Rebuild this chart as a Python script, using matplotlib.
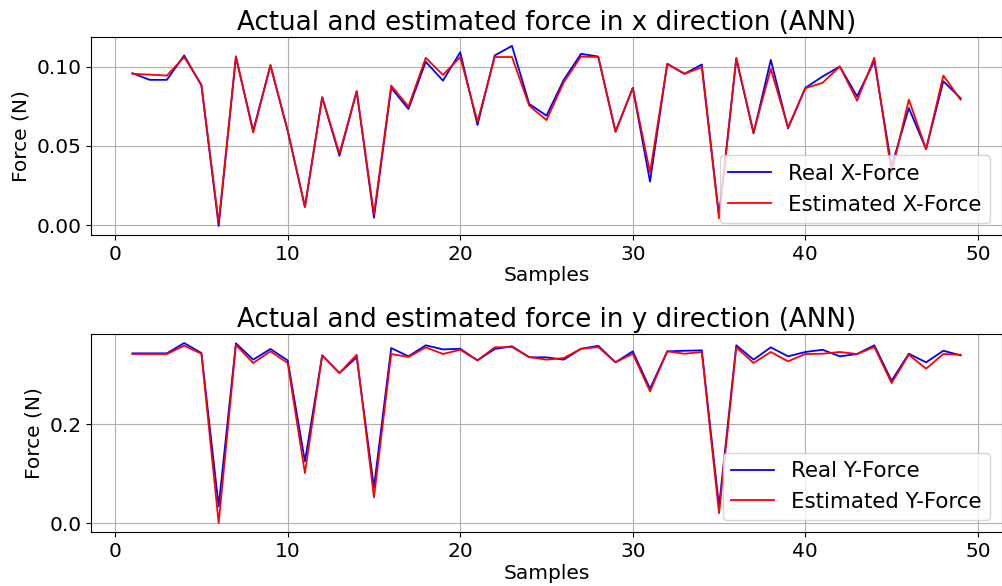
import matplotlib
matplotlib.use("Agg")
import matplotlib.pyplot as plt

samples = list(range(1, 50))

real_x = [0.0958, 0.0916, 0.0916, 0.1070, 0.0880, -0.0006, 0.1060, 0.0595, 0.1006, 0.0595,
          0.0114, 0.0806, 0.0437, 0.0844, 0.0046, 0.0865, 0.0732, 0.1030, 0.0911, 0.1090,
          0.0631, 0.1070, 0.1130, 0.0764, 0.0690, 0.0916, 0.1080, 0.1063, 0.0589, 0.0865,
          0.0274, 0.1017, 0.0954, 0.1013, 0.0057, 0.1049, 0.0578, 0.1042, 0.0610, 0.0865,
          0.0937, 0.1000, 0.0812, 0.1034, 0.0370, 0.0738, 0.0479, 0.0907, 0.0800]
est_x = [0.0954, 0.0949, 0.0943, 0.1060, 0.0886, 0.0015, 0.1065, 0.0584, 0.1010, 0.0595,
         0.0114, 0.0806, 0.0451, 0.0844, 0.0068, 0.0880, 0.0747, 0.1055, 0.0947, 0.1060,
         0.0652, 0.1060, 0.1060, 0.0753, 0.0662, 0.0901, 0.1063, 0.1060, 0.0589, 0.0865,
         0.0331, 0.1017, 0.0954, 0.0996, 0.0042, 0.1055, 0.0584, 0.0985, 0.0616, 0.0863,
         0.0897, 0.1000, 0.0785, 0.1055, 0.0330, 0.0791, 0.0479, 0.0943, 0.0791]

real_y = [0.3428, 0.3428, 0.3428, 0.3636, 0.3434, 0.0337, 0.3630, 0.3300, 0.3515, 0.3286,
          0.1246, 0.3387, 0.3030, 0.3347, 0.0720, 0.3535, 0.3367, 0.3590, 0.3508, 0.3520,
          0.3286, 0.3515, 0.3570, 0.3347, 0.3347, 0.3300, 0.3520, 0.3580, 0.3246, 0.3468,
          0.2714, 0.3468, 0.3480, 0.3488, 0.0337, 0.3590, 0.3300, 0.3549, 0.3367, 0.3455,
          0.3500, 0.3367, 0.3414, 0.3590, 0.2875, 0.3420, 0.3246, 0.3480, 0.3387]
est_y = [0.3414, 0.3414, 0.3414, 0.3582, 0.3420, 0.0000, 0.3600, 0.3232, 0.3468, 0.3232,
         0.1010, 0.3387, 0.3030, 0.3400, 0.0519, 0.3414, 0.3354, 0.3549, 0.3414, 0.3500,
         0.3286, 0.3549, 0.3555, 0.3354, 0.3300, 0.3333, 0.3520, 0.3555, 0.3246, 0.3420,
         0.2660, 0.3468, 0.3420, 0.3455, 0.0200, 0.3549, 0.3232, 0.3455, 0.3266, 0.3414,
         0.3420, 0.3455, 0.3414, 0.3555, 0.2828, 0.3400, 0.3118, 0.3414, 0.3400]

fs = 14.5

fig = plt.figure(figsize=(10.02, 5.86), dpi=100)
ax1 = fig.add_axes([0.0908, 0.599, 0.9092, 0.338])
ax2 = fig.add_axes([0.0908, 0.092, 0.9092, 0.338])

panels = [
    (ax1, real_x, est_x, "x", "X"),
    (ax2, real_y, est_y, "y", "Y"),
]

for ax, real, est, d, D in panels:
    ax.plot(samples, real, color="blue", linewidth=1.3, label=f"Real {D}-Force")
    ax.plot(samples, est, color="red", linewidth=1.3, label=f"Estimated {D}-Force")
    ax.set_title(f"Actual and estimated force in {d} direction (ANN)", fontsize=18.8, pad=5)
    ax.set_xlabel("Samples", fontsize=fs, labelpad=2)
    ax.set_ylabel("Force (N)", fontsize=fs)
    ax.tick_params(labelsize=fs)
    ax.set_xticks([0, 10, 20, 30, 40, 50])
    ax.grid(True)
    ax.legend(loc="lower right", fontsize=15.4, borderaxespad=0.55)

ax2.set_yticks([0.0, 0.2])

fig.savefig("out.png", dpi=100)
